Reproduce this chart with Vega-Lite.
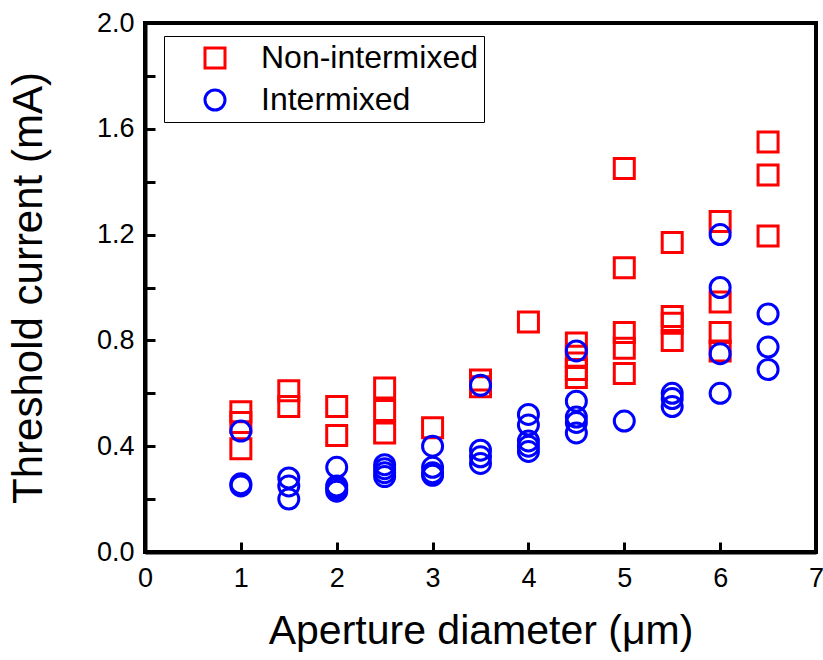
{
  "$schema": "https://vega.github.io/schema/vega-lite/v6.json",
  "width": 671,
  "height": 529,
  "autosize": {"type": "none"},
  "padding": {"left": 145, "top": 23, "right": 7, "bottom": 108},
  "background": "white",
  "config": {
    "view": {"stroke": "black", "strokeWidth": 4},
    "font": "Liberation Sans"
  },
  "data": {
    "values": [
      {"d": 1, "i": 0.53, "s": "Non-intermixed"},
      {"d": 1, "i": 0.49, "s": "Non-intermixed"},
      {"d": 1, "i": 0.39, "s": "Non-intermixed"},
      {"d": 1.5, "i": 0.61, "s": "Non-intermixed"},
      {"d": 1.5, "i": 0.55, "s": "Non-intermixed"},
      {"d": 2, "i": 0.55, "s": "Non-intermixed"},
      {"d": 2, "i": 0.44, "s": "Non-intermixed"},
      {"d": 2.5, "i": 0.62, "s": "Non-intermixed"},
      {"d": 2.5, "i": 0.535, "s": "Non-intermixed"},
      {"d": 2.5, "i": 0.45, "s": "Non-intermixed"},
      {"d": 3, "i": 0.47, "s": "Non-intermixed"},
      {"d": 3.5, "i": 0.65, "s": "Non-intermixed"},
      {"d": 3.5, "i": 0.625, "s": "Non-intermixed"},
      {"d": 4, "i": 0.87, "s": "Non-intermixed"},
      {"d": 4.5, "i": 0.79, "s": "Non-intermixed"},
      {"d": 4.5, "i": 0.74, "s": "Non-intermixed"},
      {"d": 4.5, "i": 0.69, "s": "Non-intermixed"},
      {"d": 4.5, "i": 0.66, "s": "Non-intermixed"},
      {"d": 5, "i": 1.45, "s": "Non-intermixed"},
      {"d": 5, "i": 1.075, "s": "Non-intermixed"},
      {"d": 5, "i": 0.83, "s": "Non-intermixed"},
      {"d": 5, "i": 0.77, "s": "Non-intermixed"},
      {"d": 5, "i": 0.675, "s": "Non-intermixed"},
      {"d": 5.5, "i": 1.17, "s": "Non-intermixed"},
      {"d": 5.5, "i": 0.89, "s": "Non-intermixed"},
      {"d": 5.5, "i": 0.865, "s": "Non-intermixed"},
      {"d": 5.5, "i": 0.8, "s": "Non-intermixed"},
      {"d": 6, "i": 1.25, "s": "Non-intermixed"},
      {"d": 6, "i": 0.945, "s": "Non-intermixed"},
      {"d": 6, "i": 0.83, "s": "Non-intermixed"},
      {"d": 6, "i": 0.76, "s": "Non-intermixed"},
      {"d": 6.5, "i": 1.55, "s": "Non-intermixed"},
      {"d": 6.5, "i": 1.425, "s": "Non-intermixed"},
      {"d": 6.5, "i": 1.195, "s": "Non-intermixed"},
      {"d": 1, "i": 0.457, "s": "Intermixed"},
      {"d": 1, "i": 0.258, "s": "Intermixed"},
      {"d": 1, "i": 0.25, "s": "Intermixed"},
      {"d": 1.5, "i": 0.28, "s": "Intermixed"},
      {"d": 1.5, "i": 0.25, "s": "Intermixed"},
      {"d": 1.5, "i": 0.2, "s": "Intermixed"},
      {"d": 2, "i": 0.32, "s": "Intermixed"},
      {"d": 2, "i": 0.25, "s": "Intermixed"},
      {"d": 2, "i": 0.24, "s": "Intermixed"},
      {"d": 2, "i": 0.23, "s": "Intermixed"},
      {"d": 2.5, "i": 0.33, "s": "Intermixed"},
      {"d": 2.5, "i": 0.315, "s": "Intermixed"},
      {"d": 2.5, "i": 0.3, "s": "Intermixed"},
      {"d": 2.5, "i": 0.285, "s": "Intermixed"},
      {"d": 3, "i": 0.4, "s": "Intermixed"},
      {"d": 3, "i": 0.32, "s": "Intermixed"},
      {"d": 3, "i": 0.3, "s": "Intermixed"},
      {"d": 3, "i": 0.29, "s": "Intermixed"},
      {"d": 3.5, "i": 0.63, "s": "Intermixed"},
      {"d": 3.5, "i": 0.385, "s": "Intermixed"},
      {"d": 3.5, "i": 0.36, "s": "Intermixed"},
      {"d": 3.5, "i": 0.335, "s": "Intermixed"},
      {"d": 4, "i": 0.52, "s": "Intermixed"},
      {"d": 4, "i": 0.48, "s": "Intermixed"},
      {"d": 4, "i": 0.42, "s": "Intermixed"},
      {"d": 4, "i": 0.4, "s": "Intermixed"},
      {"d": 4, "i": 0.38, "s": "Intermixed"},
      {"d": 4.5, "i": 0.76, "s": "Intermixed"},
      {"d": 4.5, "i": 0.57, "s": "Intermixed"},
      {"d": 4.5, "i": 0.51, "s": "Intermixed"},
      {"d": 4.5, "i": 0.49, "s": "Intermixed"},
      {"d": 4.5, "i": 0.45, "s": "Intermixed"},
      {"d": 5, "i": 0.495, "s": "Intermixed"},
      {"d": 5.5, "i": 0.6, "s": "Intermixed"},
      {"d": 5.5, "i": 0.58, "s": "Intermixed"},
      {"d": 5.5, "i": 0.55, "s": "Intermixed"},
      {"d": 6, "i": 1.2, "s": "Intermixed"},
      {"d": 6, "i": 1.0, "s": "Intermixed"},
      {"d": 6, "i": 0.75, "s": "Intermixed"},
      {"d": 6, "i": 0.6, "s": "Intermixed"},
      {"d": 6.5, "i": 0.9, "s": "Intermixed"},
      {"d": 6.5, "i": 0.775, "s": "Intermixed"},
      {"d": 6.5, "i": 0.69, "s": "Intermixed"}
    ]
  },
  "mark": {"type": "point", "filled": false, "strokeWidth": 3, "size": 400, "opacity": 1},
  "encoding": {
    "x": {
      "field": "d", "type": "quantitative",
      "scale": {"domain": [0, 7], "nice": false, "zero": false},
      "axis": {
        "title": "Aperture diameter (μm)",
        "values": [0, 1, 2, 3, 4, 5, 6, 7],
        "format": "d",
        "grid": false,
        "domainColor": "black", "domainWidth": 4,
        "tickColor": "black", "tickWidth": 3, "tickSize": -10,
        "labelFont": "Liberation Sans", "labelFontSize": 27, "labelColor": "black",
        "labelPadding": 23, "labelFlush": false, "labelOverlap": false,
        "titleFont": "Liberation Sans", "titleFontSize": 41, "titleFontWeight": "normal", "titleColor": "black",
        "titlePadding": 20
      }
    },
    "y": {
      "field": "i", "type": "quantitative",
      "scale": {"domain": [0, 2], "nice": false},
      "axis": {
        "title": "Threshold current (mA)",
        "values": [0, 0.2, 0.4, 0.6, 0.8, 1.0, 1.2, 1.4, 1.6, 1.8, 2.0],
        "labelExpr": "round(datum.value*10) % 4 == 0 ? format(datum.value, '.1f') : ''",
        "grid": false,
        "domainColor": "black", "domainWidth": 4,
        "tickColor": "black", "tickWidth": 3, "tickSize": -10,
        "labelFont": "Liberation Sans", "labelFontSize": 27, "labelColor": "black",
        "labelPadding": 21, "labelFlush": false, "labelOverlap": false,
        "titleFont": "Liberation Sans", "titleFontSize": 42, "titleFontWeight": "normal", "titleColor": "black",
        "titlePadding": 46
      }
    },
    "color": {
      "field": "s", "type": "nominal",
      "scale": {"domain": ["Non-intermixed", "Intermixed"], "range": ["#ff0000", "#0000ff"]},
      "legend": {
        "title": null,
        "orient": "none",
        "legendX": 19,
        "legendY": 13,
        "padding": 6,
        "strokeColor": "black",
        "fillColor": "white",
        "symbolSize": 400,
        "symbolStrokeWidth": 3,
        "symbolOffset": 29,
        "labelOffset": 30,
        "labelFont": "Liberation Sans",
        "labelFontSize": 32,
        "labelColor": "black",
        "rowPadding": 10,
        "labelLimit": 400
      }
    },
    "shape": {
      "field": "s", "type": "nominal",
      "scale": {"domain": ["Non-intermixed", "Intermixed"], "range": ["square", "circle"]},
      "legend": null
    }
  }
}
